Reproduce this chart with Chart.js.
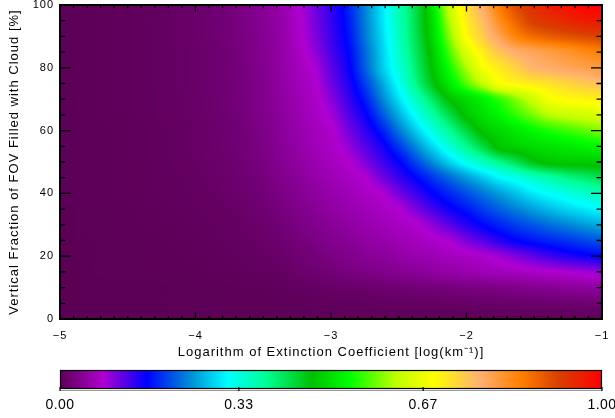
<!DOCTYPE html>
<html>
<head>
<meta charset="utf-8">
<script src="https://cdn.jsdelivr.net/npm/chart.js@4.4.1/dist/chart.umd.min.js"></script>
<style>
  body { margin: 0; background: #fff; }
  #main { position: absolute; left: 0; top: 0; width: 615px; height: 362px; }
  #bar { position: absolute; left: 0; top: 362px; width: 615px; height: 56px; }
</style>
</head>
<body>
<div id="main"><canvas id="fieldChart"></canvas></div>
<div id="bar"><canvas id="barChart"></canvas></div>
<script>
// grid columns: log10 of the extinction coefficient
const logExt = [-5, -4.5, -4, -3.75, -3.5, -3.375, -3.25, -3.125, -3, -2.875, -2.75, -2.625, -2.5,
  -2.375, -2.25, -2.125, -2, -1.875, -1.75, -1.625, -1.5, -1.375, -1.25, -1.125, -1];
// grid rows: vertical fraction of the FOV filled with cloud, %
const cloudFrac = [0, 5, 10, 15, 20, 25, 30, 35, 40, 45, 50, 55, 60, 65, 70, 75, 80, 85, 90, 95, 100];

// normalised signal, one row per cloudFrac entry
const field = [
  [0,0,0,0,0,0,0,0,0,0,0,0,0,0,0,0,0,0,0,0,0,0,0,0,0],
  [0,0,.001,.001,.001,.002,.003,.004,.005,.005,.006,.007,.008,.008,.009,.010,.011,.012,.013,.014,.015,.016,.017,.018,.02],
  [0,0,.001,.002,.003,.005,.007,.009,.011,.013,.015,.017,.019,.021,.023,.025,.028,.03,.033,.035,.038,.041,.044,.047,.05],
  [0,.001,.002,.004,.006,.008,.013,.017,.021,.026,.03,.034,.039,.043,.048,.052,.057,.061,.066,.07,.075,.079,.083,.089,.095],
  [0,.001,.003,.005,.009,.012,.018,.023,.029,.034,.04,.045,.051,.057,.062,.068,.073,.079,.089,.103,.118,.132,.144,.153,.16],
  [0,.001,.004,.007,.012,.016,.023,.029,.036,.042,.049,.055,.062,.068,.075,.084,.104,.123,.143,.161,.171,.181,.19,.20,.21],
  [0,.002,.005,.008,.015,.02,.028,.035,.042,.049,.056,.064,.071,.078,.096,.119,.142,.163,.18,.196,.21,.224,.236,.249,.26],
  [0,.002,.006,.01,.018,.025,.033,.041,.049,.057,.064,.072,.08,.104,.129,.153,.172,.195,.215,.235,.253,.27,.285,.298,.31],
  [.001,.003,.007,.012,.022,.03,.038,.047,.055,.063,.072,.08,.107,.132,.159,.182,.205,.228,.252,.275,.299,.315,.33,.345,.36],
  [.001,.003,.008,.014,.025,.034,.043,.053,.062,.071,.08,.107,.134,.161,.19,.22,.249,.278,.308,.327,.35,.37,.39,.405,.42],
  [.001,.003,.009,.016,.028,.038,.048,.058,.068,.078,.102,.13,.158,.198,.24,.282,.321,.354,.388,.422,.456,.472,.476,.478,.48],
  [.001,.003,.01,.017,.03,.041,.052,.063,.073,.091,.12,.149,.191,.239,.287,.335,.382,.43,.474,.485,.497,.506,.514,.522,.53],
  [.001,.003,.01,.018,.032,.043,.055,.066,.077,.105,.137,.175,.227,.279,.33,.38,.43,.474,.493,.512,.532,.548,.562,.576,.59],
  [.001,.004,.011,.019,.034,.045,.058,.07,.086,.12,.155,.206,.261,.316,.37,.424,.474,.502,.529,.559,.59,.62,.632,.641,.65],
  [.001,.004,.011,.02,.035,.047,.06,.073,.097,.133,.174,.233,.291,.35,.409,.468,.496,.524,.557,.598,.64,.682,.695,.70,.705],
  [.001,.004,.012,.021,.036,.049,.063,.077,.109,.144,.194,.254,.316,.385,.454,.513,.571,.628,.685,.70,.711,.723,.736,.748,.76],
  [.001,.004,.012,.021,.037,.05,.066,.081,.117,.153,.212,.276,.332,.401,.47,.541,.611,.682,.714,.742,.77,.78,.79,.80,.81],
  [.001,.004,.012,.021,.038,.051,.069,.093,.126,.159,.218,.279,.343,.41,.48,.565,.649,.712,.753,.779,.793,.807,.82,.836,.85],
  [.001,.004,.013,.022,.039,.052,.072,.099,.132,.167,.227,.286,.351,.418,.494,.592,.69,.746,.798,.848,.875,.89,.90,.91,.92],
  [.001,.004,.013,.023,.041,.053,.074,.103,.135,.172,.231,.291,.355,.422,.501,.614,.708,.763,.833,.885,.925,.94,.955,.965,.97],
  [.001,.004,.014,.024,.043,.057,.077,.105,.137,.176,.235,.294,.358,.425,.51,.635,.723,.787,.862,.914,.945,.968,.985,.995,1.0]
];

const xTicks = [-5, -4, -3, -2, -1];
const yTicks = [0, 20, 40, 60, 80, 100];
const barTicks = [0, 0.33, 0.67, 1];

// colour table stops
const cmapPos = [0, 0.08, 0.16, 0.24, 0.31, 0.38, 0.465, 0.535, 0.62, 0.69, 0.775, 0.85, 0.92, 1];
const cmapRGB = [
  [92, 0, 86], [176, 0, 208], [0, 0, 255], [0, 140, 215], [0, 255, 255], [0, 255, 150],
  [0, 192, 0], [0, 255, 0], [190, 255, 0], [255, 255, 0], [255, 176, 112], [255, 128, 0],
  [216, 64, 0], [255, 0, 0]
];

const FONT = "'Liberation Sans', Arial, sans-serif";

function cmap(v) {
  if (v <= cmapPos[0]) return cmapRGB[0];
  for (let i = 1; i < cmapPos.length; i++) {
    if (v <= cmapPos[i]) {
      const t = (v - cmapPos[i - 1]) / (cmapPos[i] - cmapPos[i - 1]);
      const a = cmapRGB[i - 1], b = cmapRGB[i];
      return [a[0] + (b[0] - a[0]) * t, a[1] + (b[1] - a[1]) * t, a[2] + (b[2] - a[2]) * t];
    }
  }
  return cmapRGB[cmapRGB.length - 1];
}

// monotone cubic (PCHIP) through the grid nodes, for smooth shading
function makePchip(xs, ys) {
  const n = xs.length;
  const h = [], d = [], m = new Array(n);
  for (let k = 0; k < n - 1; k++) {
    h.push(xs[k + 1] - xs[k]);
    d.push((ys[k + 1] - ys[k]) / h[k]);
  }
  m[0] = d[0];
  m[n - 1] = d[n - 2];
  for (let k = 1; k < n - 1; k++) {
    if (d[k - 1] * d[k] <= 0) { m[k] = 0; continue; }
    const w1 = 2 * h[k] + h[k - 1], w2 = h[k] + 2 * h[k - 1];
    m[k] = (w1 + w2) / (w1 / d[k - 1] + w2 / d[k]);
  }
  return x => {
    let k = 0;
    while (k < n - 2 && x > xs[k + 1]) k++;
    const t = Math.min(1, Math.max(0, (x - xs[k]) / h[k]));
    const t2 = t * t, t3 = t2 * t;
    return (2 * t3 - 3 * t2 + 1) * ys[k] + (t3 - 2 * t2 + t) * h[k] * m[k] +
      (-2 * t3 + 3 * t2) * ys[k + 1] + (t3 - t2) * h[k] * m[k + 1];
  };
}

// paints the field into the plot area, pixel by pixel, through the scales
const fieldLayer = {
  id: 'fieldLayer',
  beforeDatasetsDraw(chart) {
    const { ctx, chartArea: a, scales: { x, y } } = chart;
    const w = Math.round(a.right - a.left), h = Math.round(a.bottom - a.top);
    const off = document.createElement('canvas');
    off.width = w; off.height = h;
    const octx = off.getContext('2d');
    const img = octx.createImageData(w, h);
    const rowFns = field.map(row => makePchip(logExt, row));
    const rowsY = [];
    for (let j = 0; j < h; j++) rowsY.push(y.getValueForPixel(a.top + j + 0.5));
    for (let i = 0; i < w; i++) {
      const lx = x.getValueForPixel(a.left + i + 0.5);
      const colFn = makePchip(cloudFrac, rowFns.map(f => f(lx)));
      for (let j = 0; j < h; j++) {
        const c = cmap(colFn(rowsY[j]));
        const k = (j * w + i) * 4;
        img.data[k] = c[0]; img.data[k + 1] = c[1]; img.data[k + 2] = c[2]; img.data[k + 3] = 255;
      }
    }
    octx.putImageData(img, 0, 0);
    ctx.drawImage(off, a.left, a.top);
  }
};

// box with inward major/minor ticks on all four sides
const frame = {
  id: 'frame',
  beforeDraw(chart) { chart.ctx.letterSpacing = '1px'; },
  afterDraw(chart) {
    const { ctx, chartArea: a, scales: { x, y } } = chart;
    ctx.save();
    ctx.letterSpacing = '0px';
    ctx.strokeStyle = '#000';
    ctx.lineWidth = 1.3;
    ctx.beginPath();
    const vtick = (px, len) => {
      ctx.moveTo(px, a.bottom); ctx.lineTo(px, a.bottom - len);
      ctx.moveTo(px, a.top); ctx.lineTo(px, a.top + len);
    };
    const htick = (py, len) => {
      ctx.moveTo(a.left, py); ctx.lineTo(a.left + len, py);
      ctx.moveTo(a.right, py); ctx.lineTo(a.right - len, py);
    };
    xTicks.forEach((v, i) => {
      vtick(x.getPixelForValue(v), 6.5);
      if (i < xTicks.length - 1) {
        for (let m = 1; m < 10; m++) vtick(x.getPixelForValue(v + (xTicks[i + 1] - v) * m / 10), 3.2);
      }
    });
    yTicks.forEach((v, i) => {
      htick(y.getPixelForValue(v), 11);
      if (i < yTicks.length - 1) {
        for (let m = 1; m < 4; m++) htick(y.getPixelForValue(v + (yTicks[i + 1] - v) * m / 4), 5.5);
      }
    });
    ctx.stroke();
    ctx.lineWidth = 2;
    ctx.strokeRect(a.left, a.top, a.right - a.left, a.bottom - a.top);
    ctx.restore();
  }
};

// fixed box sizes, no extra room for overhanging labels
function fixBox(size, horizontal) {
  return s => {
    if (horizontal) s.height = size; else s.width = size;
    s.paddingTop = 0; s.paddingBottom = 0; s.paddingLeft = 0; s.paddingRight = 0;
  };
}

new Chart(document.getElementById('fieldChart'), {
  type: 'scatter',
  data: { datasets: [{ data: [] }] },
  options: {
    responsive: true,
    maintainAspectRatio: false,
    animation: false,
    events: [],
    layout: { padding: { top: 5, right: 13, left: 0, bottom: 0 }, autoPadding: false },
    plugins: { legend: { display: false }, tooltip: { enabled: false } },
    scales: {
      x: {
        type: 'linear', min: -5, max: -1,
        grid: { display: false, drawTicks: false },
        border: { display: false },
        afterBuildTicks: s => { s.ticks = xTicks.map(v => ({ value: v })); },
        afterFit: fixBox(43, true),
        ticks: {
          color: '#000', padding: 10, maxRotation: 0, autoSkip: false,
          font: { family: FONT, size: 11 },
          callback: v => (v < 0 ? '\u2212' + Math.abs(v) : String(v))
        },
        title: {
          display: true, color: '#000',
          text: 'Logarithm of Extinction Coefficient [log(km\u207B\u00B9)]',
          font: { family: FONT, size: 13 },
          padding: { top: 0, bottom: 2 }
        }
      },
      y: {
        type: 'linear', min: 0, max: 100,
        grid: { display: false, drawTicks: false },
        border: { display: false },
        afterBuildTicks: s => { s.ticks = yTicks.map(v => ({ value: v })); },
        afterFit: fixBox(60, false),
        ticks: { color: '#000', padding: 6, font: { family: FONT, size: 11 } },
        title: {
          display: true, color: '#000',
          text: 'Vertical Fraction of FOV Filled with Cloud [%]',
          font: { family: FONT, size: 13 },
          padding: { top: 7, bottom: 0 }
        }
      }
    }
  },
  plugins: [fieldLayer, frame]
});

// colour bar: same colour table drawn along a 0..1 axis
const barLayer = {
  id: 'barLayer',
  beforeDraw(chart) { chart.ctx.letterSpacing = '0.5px'; },
  beforeDatasetsDraw(chart) {
    const { ctx, chartArea: a, scales: { x } } = chart;
    ctx.save();
    for (let px = Math.round(a.left); px < Math.round(a.right); px++) {
      const c = cmap(x.getValueForPixel(px + 0.5));
      ctx.fillStyle = 'rgb(' + c.map(Math.round).join(',') + ')';
      ctx.fillRect(px, a.top, 1, a.bottom - a.top);
    }
    ctx.restore();
  },
  afterDraw(chart) {
    const { ctx, chartArea: a, scales: { x } } = chart;
    ctx.save();
    ctx.strokeStyle = '#999';
    ctx.lineWidth = 1;
    ctx.beginPath();
    ctx.moveTo(a.left, a.bottom + 1.5); ctx.lineTo(a.right, a.bottom + 1.5);
    ctx.stroke();
    ctx.strokeStyle = '#000';
    ctx.lineWidth = 1.2;
    ctx.strokeRect(a.left + 0.5, a.top + 0.5, a.right - a.left - 1, a.bottom - a.top - 1);
    ctx.beginPath();
    barTicks.forEach(v => {
      const px = x.getPixelForValue(v);
      ctx.moveTo(px, a.bottom - 2); ctx.lineTo(px, a.bottom + 2);
    });
    ctx.stroke();
    ctx.restore();
  }
};

new Chart(document.getElementById('barChart'), {
  type: 'scatter',
  data: { datasets: [{ data: [] }] },
  options: {
    responsive: true,
    maintainAspectRatio: false,
    animation: false,
    events: [],
    layout: { padding: { top: 8, right: 13, left: 60, bottom: 0 }, autoPadding: false },
    plugins: { legend: { display: false }, tooltip: { enabled: false } },
    scales: {
      x: {
        type: 'linear', min: 0, max: 1,
        grid: { display: false, drawTicks: false },
        border: { display: false },
        afterBuildTicks: s => { s.ticks = barTicks.map(v => ({ value: v })); },
        afterFit: fixBox(29, true),
        ticks: {
          color: '#000', padding: 8, maxRotation: 0, autoSkip: false,
          font: { family: FONT, size: 14 },
          callback: v => v.toFixed(2)
        }
      },
      y: { display: false, min: 0, max: 1 }
    }
  },
  plugins: [barLayer]
});
</script>
</body>
</html>
